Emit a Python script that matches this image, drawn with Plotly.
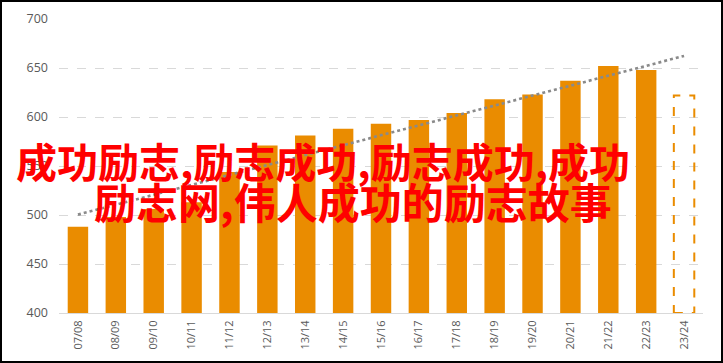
import numpy as np
import plotly.graph_objects as go

categories = ["07/08", "08/09", "09/10", "10/11", "11/12", "12/13", "13/14", "14/15",
              "15/16", "16/17", "17/18", "18/19", "19/20", "20/21", "21/22", "22/23", "23/24"]
values = [488, 498, 506, 513, 544, 571, 581, 588, 593, 597, 604, 618, 623, 637, 652, 648, 622]
estimate_flags = [False] * 16 + [True]
y_ticks = [400, 450, 500, 550, 600, 650, 700]
title_line1 = "成功励志,励志成功,励志成功,成功"
title_line2 = "励志网,伟人成功的励志故事"

W, H = 723, 363
L, R, T, B = 59, 20, 19, 50
pw, ph = W - L - R, H - T - B

ORANGE = "#EA8C00"
idx = np.arange(len(categories))

fig = go.Figure()

solid_x = [c for c, f in zip(categories, estimate_flags) if not f]
solid_y = [v for v, f in zip(values, estimate_flags) if not f]
fig.add_trace(go.Bar(x=solid_x, y=solid_y, marker=dict(color=ORANGE, line=dict(width=0)),
                     showlegend=False))

# trend line (linear fit through all bars)
slope, intercept = np.polyfit(idx, values, 1)
trend = slope * idx + intercept
fig.add_trace(go.Scatter(x=categories, y=trend, mode="lines",
                         line=dict(color="#8a8a8a", width=2.6, dash="dot"),
                         showlegend=False, hoverinfo="skip"))

bar_half = 0.27
for i, (v, f) in enumerate(zip(values, estimate_flags)):
    if f:
        fig.add_shape(type="rect", xref="x", yref="y",
                      x0=i - bar_half, x1=i + bar_half, y0=y_ticks[0], y1=v,
                      line=dict(color=ORANGE, width=2, dash="dash"),
                      fillcolor="rgba(0,0,0,0)", layer="above")

fig.update_layout(
    width=W, height=H,
    margin=dict(l=L, r=R, t=T, b=B, autoexpand=False),
    paper_bgcolor="white", plot_bgcolor="white",
    bargap=0.46,
    font=dict(family="Open Sans, Lato, sans-serif", color="#595959"),
    xaxis=dict(type="category", categoryorder="array", categoryarray=categories,
               range=[-0.5, len(categories) - 0.5],
               tickangle=-90, tickfont=dict(size=11, color="#595959"),
               showgrid=False, showline=True, linecolor="#d9d9d9", linewidth=1,
               ticks="", ticklabelstandoff=2, automargin=False),
    yaxis=dict(range=[y_ticks[0], y_ticks[-1]], tickvals=y_ticks,
               tickfont=dict(size=12.5, color="#595959"),
               showgrid=True, gridcolor="#d9d9d9", griddash="dash", gridwidth=1,
               zeroline=False, showline=False, ticks="", ticklabelstandoff=10,
               automargin=False),
)

# outer black frame
fig.add_shape(type="rect", xref="paper", yref="paper",
              x0=(1 - L) / pw, x1=(W - 1 - L) / pw,
              y0=-(B - 1) / ph, y1=(H - 1 - B) / ph,
              line=dict(color="black", width=2), fillcolor="rgba(0,0,0,0)", layer="above")

fig.add_annotation(text="<b>" + title_line1 + "</b>", xref="paper", yref="paper",
                   x=(323 - L) / pw, y=(H - B - 160) / ph, xanchor="center", yanchor="middle",
                   showarrow=False,
                   font=dict(family="Noto Sans CJK SC", size=41, color="#ff0000"))
fig.add_annotation(text="<b>" + title_line2 + "</b>", xref="paper", yref="paper",
                   x=(353 - L) / pw, y=(H - B - 200) / ph, xanchor="center", yanchor="middle",
                   showarrow=False,
                   font=dict(family="Noto Sans CJK SC", size=42, color="#ff0000"))

fig.write_html("out.html",
               config={"displayModeBar": False},
               post_script="document.body.style.margin='0';document.body.style.overflow='hidden';")
